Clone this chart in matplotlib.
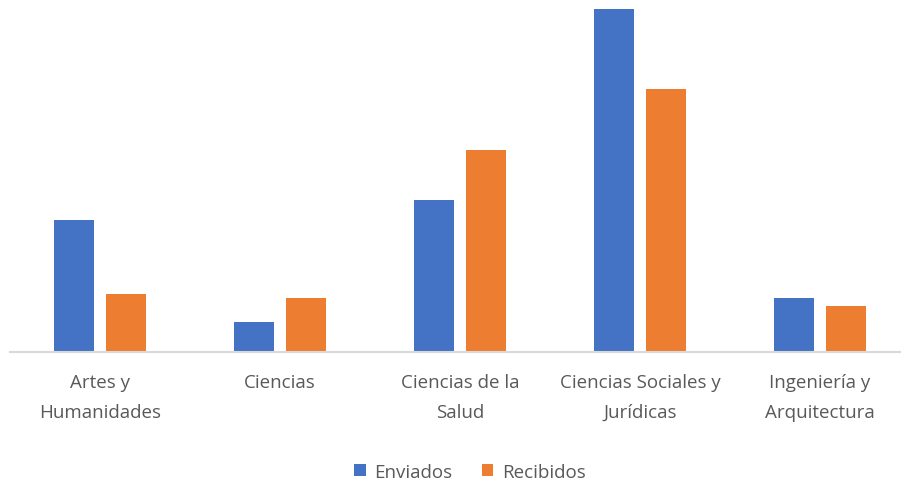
import matplotlib
matplotlib.use("Agg")
import matplotlib.pyplot as plt
import numpy as np

categories = ["Artes y\nHumanidades", "Ciencias", "Ciencias de la\nSalud",
              "Ciencias Sociales y\nJurídicas", "Ingeniería y\nArquitectura"]
enviados = [132.6, 30.0, 152.6, 343.0, 54.0]
recibidos = [58.0, 54.0, 202.6, 263.0, 46.0]

W, H = 901, 489
fig = plt.figure(figsize=(W / 100, H / 100), dpi=100)
base = 353.3
ax = fig.add_axes([10 / W, (H - base) / H, 890 / W, base / H])

x = np.arange(len(categories))
bw = 40 / 180
off = 26 / 180
blue = "#4472C4"
orange = "#ED7D31"
ax.bar(x - off, enviados, bw, color=blue, label="Enviados")
ax.bar(x + off, recibidos, bw, color=orange, label="Recibidos")

ax.set_xlim(-0.5, 4.5 - 10 / 180)
ax.set_ylim(0, base)
for s in ["top", "right", "left"]:
    ax.spines[s].set_visible(False)
ax.spines["bottom"].set_color("#d9d9d9")
ax.spines["bottom"].set_linewidth(1.5)
ax.set_yticks([])
ax.set_xticks(x)
ax.set_xticklabels(categories, fontsize=13.5, color="#595959", family="Open Sans",
                   linespacing=1.85)
ax.tick_params(axis="x", length=0, pad=15)

leg = fig.legend(loc="center", bbox_to_anchor=(470 / W, 1 - 473 / H), ncol=2,
                 frameon=False, prop={"family": "Open Sans", "size": 13.5},
                 handlelength=0.6, handleheight=0.6, handletextpad=0.45,
                 columnspacing=1.6)
for t in leg.get_texts():
    t.set_color("#595959")

fig.savefig("out.png", dpi=100)
